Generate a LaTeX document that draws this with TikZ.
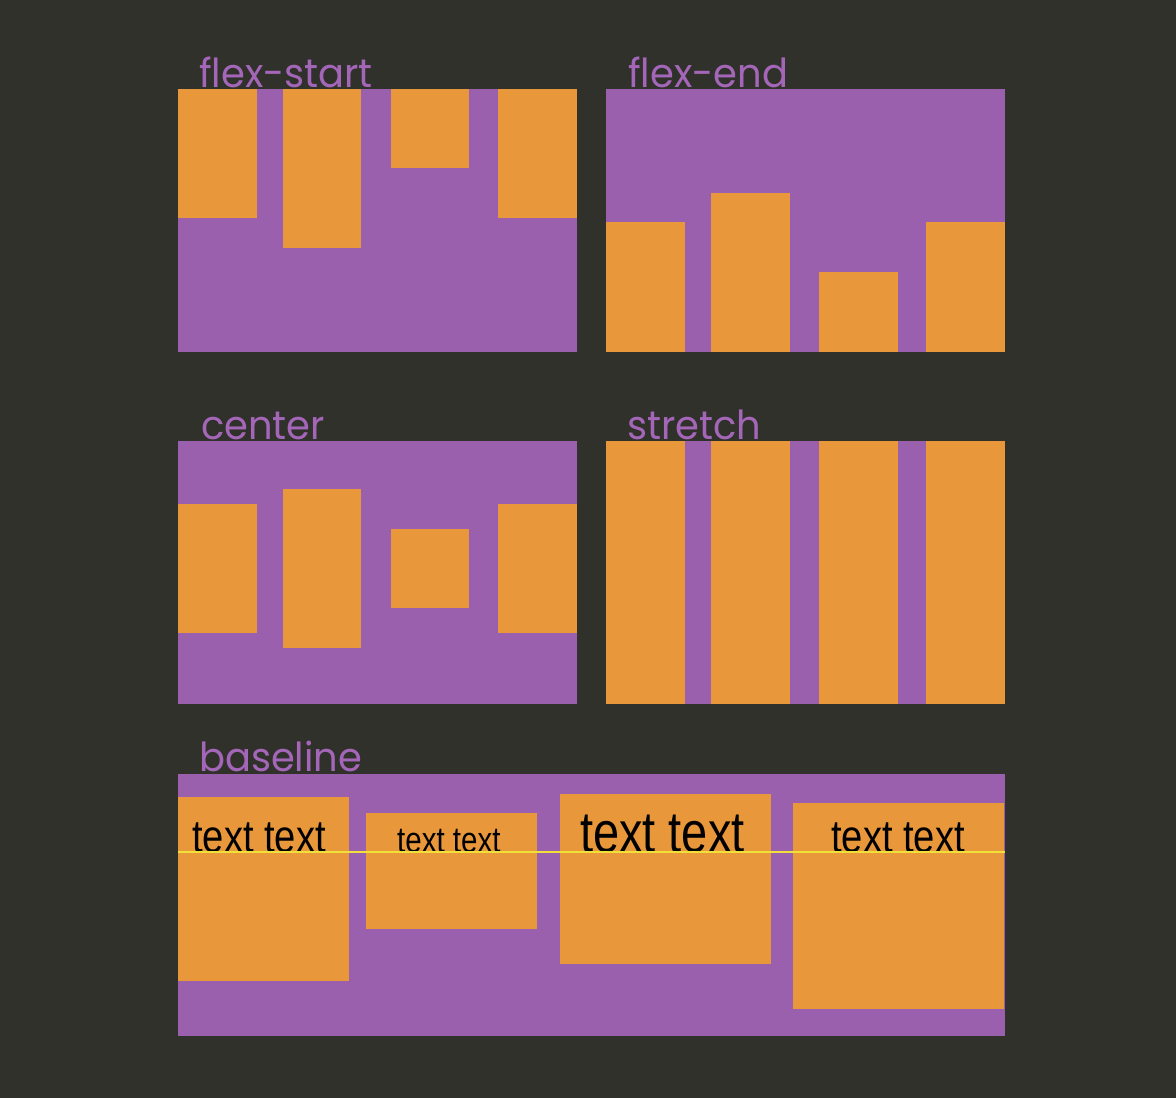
\documentclass[tikz,border=0pt]{standalone}
\usepackage{fontspec}
\setmainfont{Liberation Sans}
\newfontfamily\lblfont{Poppins}
\definecolor{bgdark}{HTML}{31312B}
\definecolor{flexpurple}{HTML}{9A60AE}
\definecolor{flexorange}{HTML}{E8973A}
\definecolor{lblpurple}{HTML}{A466B8}
\definecolor{baseyellow}{HTML}{F2E03A}
\tikzset{
  panel/.style={fill=flexpurple},
  item/.style={fill=flexorange},
  lbl/.style={anchor=base west,inner sep=0pt,text=lblpurple,
    font=\lblfont\fontsize{40}{42}\selectfont,xscale=0.96},
  txt/.style={anchor=base west,inner sep=0pt,text=black}
}
\begin{document}
\begin{tikzpicture}[x=1pt,y=-1pt]
\fill[bgdark] (0,0) rectangle (1176,1098);
\useasboundingbox (0,0) rectangle (1176,1098);

% flex-start
\fill[panel] (178,89) rectangle (577,352);
\fill[item] (178,89) rectangle (257,218);
\fill[item] (283,89) rectangle (361,248);
\fill[item] (391,89) rectangle (469,168);
\fill[item] (498,89) rectangle (577,218);
\node[lbl] (lstart) at (199,87) {flex-start};

% flex-end
\fill[panel] (606,89) rectangle (1005,352);
\fill[item] (606,222) rectangle (685,352);
\fill[item] (711,193) rectangle (790,352);
\fill[item] (819,272) rectangle (898,352);
\fill[item] (926,222) rectangle (1005,352);
\node[lbl] (lend) at (628,87) {flex-end};

% center
\fill[panel] (178,441) rectangle (577,704);
\fill[item] (178,504) rectangle (257,633);
\fill[item] (283,489) rectangle (361,648);
\fill[item] (391,529) rectangle (469,608);
\fill[item] (498,504) rectangle (577,633);
\node[lbl] (lcenter) at (201,439) {center};

% stretch
\fill[panel] (606,441) rectangle (1005,704);
\fill[item] (606,441) rectangle (685,704);
\fill[item] (711,441) rectangle (790,704);
\fill[item] (819,441) rectangle (898,704);
\fill[item] (926,441) rectangle (1005,704);
\node[lbl] (lstretch) at (627,439) {stretch};

% baseline
\fill[panel] (178,774) rectangle (1005,1036);
\fill[item] (178,797) rectangle (349,981);
\fill[item] (366,813) rectangle (537,929);
\fill[item] (560,794) rectangle (771,964);
\fill[item] (793,803) rectangle (1004,1009);
\node[lbl] (lbase) at (199,771) {baseline};

% texts on the baseline
\node[txt,font=\fontsize{46}{50}\selectfont,xscale=0.83] (t1) at (192,852) {text text};
\node[txt,font=\fontsize{36}{40}\selectfont,xscale=0.82] (t2) at (397,852) {text text};
\node[txt,font=\fontsize{58}{62}\selectfont,xscale=0.81] (t3) at (580,852) {text text};
\node[txt,font=\fontsize{46}{50}\selectfont,xscale=0.83] (t4) at (831,852) {text text};
\draw[baseyellow,line width=2.4pt] (178,852) -- (1005,852);
\end{tikzpicture}
\end{document}
